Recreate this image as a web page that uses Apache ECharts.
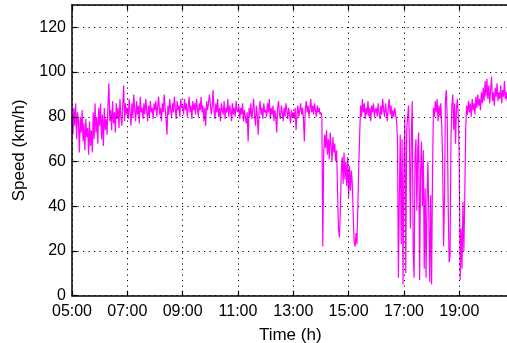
<!DOCTYPE html>
<html>
<head>
<meta charset="utf-8">
<script src="https://cdn.jsdelivr.net/npm/echarts@6/dist/echarts.min.js"></script>
<style>
  html, body { margin: 0; padding: 0; background: #fff; }
  #chart { width: 507px; height: 343px; }
</style>
</head>
<body>
<div id="chart"></div>
<script>
// Vehicle speed log, one sample every 2 minutes, grouped by clock hour.
const startHour = 5;          // first sample at 05:00
const samplesPerHour = 30;

const speed05 = [80, 72, 84, 76, 86, 70, 82, 78, 64, 80, 73, 83, 69, 77, 65, 79, 71, 75, 63, 78, 67, 74, 64, 82, 70, 86, 73, 80, 68, 84];
const speed06 = [76, 86, 70, 81, 67, 84, 74, 79, 72, 85, 95, 78, 83, 74, 87, 77, 82, 73, 86, 79, 84, 75, 88, 80, 76, 85, 94, 78, 86, 81];
const speed07 = [84, 79, 88, 82, 76, 86, 80, 90, 83, 78, 87, 81, 85, 77, 89, 82, 84, 79, 86, 81, 88, 83, 78, 85, 80, 87, 82, 84, 79, 86];
const speed08 = [83, 87, 80, 85, 89, 81, 84, 78, 86, 82, 90, 84, 79, 72, 85, 81, 88, 83, 80, 86, 82, 89, 84, 79, 87, 83, 85, 80, 88, 84];
const speed09 = [85, 81, 88, 83, 86, 80, 84, 89, 82, 85, 79, 87, 83, 86, 81, 88, 84, 80, 86, 83, 89, 82, 85, 78, 84, 76, 87, 83, 86, 90];
const speed10 = [86, 81, 84, 92, 83, 79, 86, 82, 88, 80, 84, 78, 86, 83, 81, 87, 79, 84, 82, 88, 80, 85, 83, 78, 86, 81, 84, 80, 87, 83];
const speed11 = [82, 85, 79, 84, 81, 86, 78, 83, 80, 77, 82, 69, 84, 80, 86, 79, 83, 88, 81, 76, 85, 80, 72, 83, 87, 81, 84, 79, 86, 82];
const speed12 = [83, 80, 86, 82, 88, 79, 84, 81, 85, 78, 83, 80, 73, 84, 87, 81, 79, 85, 82, 78, 84, 80, 86, 83, 79, 84, 81, 77, 83, 80];
const speed13 = [82, 79, 84, 74, 81, 85, 80, 83, 86, 81, 84, 79, 69, 83, 87, 82, 85, 80, 84, 88, 82, 85, 81, 86, 83, 80, 85, 82, 84, 81];
const speed14 = [82, 80, 22, 64, 72, 66, 74, 63, 70, 61, 73, 67, 60, 71, 64, 68, 60, 65, 46, 30, 26, 38, 55, 62, 50, 64, 52, 60, 49, 62];
const speed15 = [44, 58, 47, 56, 50, 36, 24, 22, 28, 23, 40, 58, 72, 85, 80, 88, 82, 86, 79, 84, 81, 87, 80, 84, 78, 85, 82, 86, 80, 83];
const speed16 = [84, 80, 86, 82, 79, 85, 81, 88, 83, 80, 86, 82, 78, 84, 88, 81, 85, 79, 83, 80, 84, 81, 78, 70, 8, 45, 72, 23, 70, 5];
const speed17 = [60, 80, 10, 74, 80, 85, 68, 30, 72, 87, 20, 8, 62, 70, 38, 66, 73, 7, 55, 69, 40, 65, 12, 48, 8, 42, 60, 35, 6, 45];
const speed18 = [5, 55, 84, 80, 87, 82, 88, 78, 85, 80, 86, 76, 60, 22, 45, 88, 92, 78, 40, 15, 18, 70, 85, 90, 74, 86, 68, 84, 88, 80];
const speed19 = [60, 7, 30, 12, 42, 20, 45, 75, 85, 81, 87, 82, 86, 80, 88, 83, 86, 81, 89, 84, 90, 85, 88, 83, 91, 86, 93, 87, 96, 89];
const speed20 = [97, 88, 94, 86, 92, 98, 87, 91, 85, 93, 89, 95, 87, 91, 88, 94, 86, 92, 89, 96, 88, 91, 87, 93, 89, 92, 88, 94, 90, 91];

const hourBlocks = [speed05, speed06, speed07, speed08, speed09, speed10, speed11, speed12,
                    speed13, speed14, speed15, speed16, speed17, speed18, speed19, speed20];

const yTicks = [0, 20, 40, 60, 80, 100, 120];
const xAxisName = 'Time (h)';
const yAxisName = 'Speed (km/h)';

// Points as [hours since 05:00, km/h]
const points = [];
hourBlocks.forEach((block, k) => {
  block.forEach((v, i) => points.push([k + i / samplesPerHour, v]));
});

const font = "'Liberation Sans', Arial, Helvetica, sans-serif";
const dotted = { color: '#000', width: 1, type: [1.2, 4.3] };

function hourLabel(v) {
  if (Math.abs(v - Math.round(v)) > 1e-6) return '';
  const h = startHour + Math.round(v);
  return (h < 10 ? '0' : '') + h + ':00';
}

const chart = echarts.init(document.getElementById('chart'), null, { renderer: 'canvas' });
chart.setOption({
  animation: false,
  backgroundColor: '#fff',
  grid: { left: 72, top: 5, width: 436.5, height: 290.7, containLabel: false, outerBoundsMode: 'none' },
  xAxis: [{
    type: 'value', min: 0, max: 15.78, interval: 2, z: 5,
    name: xAxisName, nameLocation: 'middle', nameGap: 31,
    nameTextStyle: { fontFamily: font, fontSize: 17, color: '#000' },
    axisLine: { lineStyle: { color: '#000', width: 1.5 } },
    axisTick: { inside: true, length: 5, lineStyle: { color: '#000', width: 1.2 } },
    axisLabel: { formatter: hourLabel, showMaxLabel: false, margin: 8,
                 fontFamily: font, fontSize: 16, color: '#000' },
    splitLine: { show: true, lineStyle: dotted }
  }, {
    type: 'value', position: 'top', min: 0, max: 15.78, interval: 2, z: 5,
    axisLine: { lineStyle: { color: '#000', width: 1.5 } },
    axisTick: { inside: true, length: 5, lineStyle: { color: '#000', width: 1.2 } },
    axisLabel: { show: false },
    splitLine: { show: false }
  }],
  yAxis: {
    type: 'value', min: 0, max: 130, interval: 20, z: 5,
    name: yAxisName, nameLocation: 'middle', nameGap: 44,
    nameTextStyle: { fontFamily: font, fontSize: 17, color: '#000' },
    axisLine: { show: true, lineStyle: { color: '#000', width: 1.5 } },
    axisTick: { show: true, inside: true, length: 5, lineStyle: { color: '#000', width: 1.2 } },
    axisLabel: {
      formatter: v => (yTicks.indexOf(v) >= 0 ? String(v) : ''),
      showMaxLabel: false, margin: 6, fontFamily: font, fontSize: 16, color: '#000'
    },
    splitLine: { show: true, lineStyle: dotted }
  },
  series: [{
    type: 'line',
    xAxisIndex: 0,
    data: points,
    showSymbol: false,
    sampling: null,
    lineStyle: { color: '#ff00ff', width: 1.2 },
    z: 2
  }]
});
</script>
</body>
</html>
